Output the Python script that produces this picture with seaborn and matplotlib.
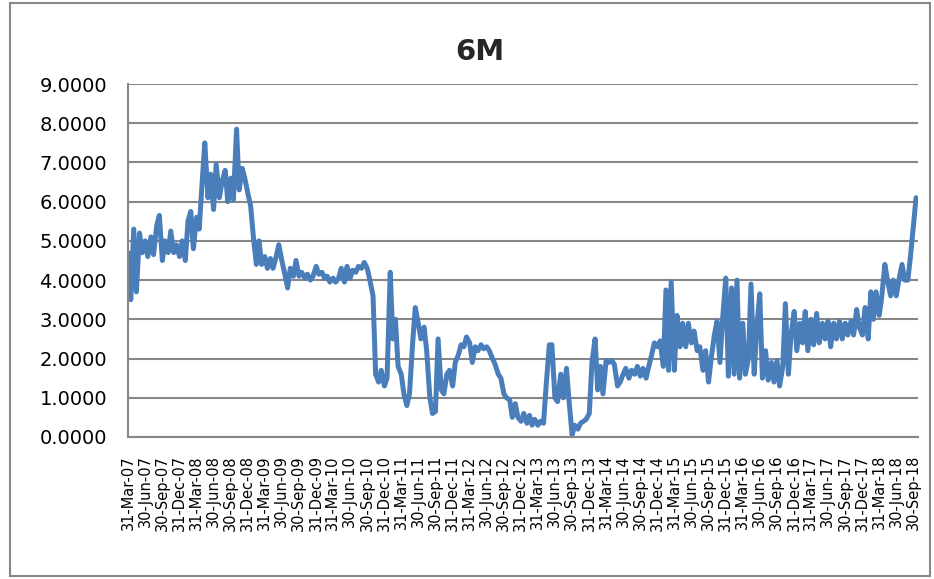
import numpy as np
import matplotlib
matplotlib.use("Agg")
import matplotlib.pyplot as plt
import matplotlib.dates as mdates
import pandas as pd
import seaborn as sns

sns.set_style("white")
plt.rcParams["font.family"] = ["DejaVu Sans"]

# semi-monthly readings of the 6M rate
v2007 = [4.7, 3.5, 5.3, 3.7, 5.2, 4.7, 5.0, 4.6, 5.1, 4.65, 5.4, 5.65,
         4.5, 5.0, 4.7, 5.25, 4.7, 4.9]
v2008 = [4.6, 5.0, 4.5, 5.5, 5.75, 4.8, 5.6, 5.3, 6.5, 7.5, 6.1, 6.7,
         5.8, 6.95, 6.1, 6.5, 6.8, 6.0, 6.6, 6.05, 7.85, 6.3, 6.85, 6.6]
v2009 = [6.2, 5.9, 5.0, 4.4, 5.0, 4.4, 4.6, 4.3, 4.55, 4.3, 4.6, 4.9,
         4.5, 4.2, 3.8, 4.3, 4.1, 4.5, 4.1, 4.2, 4.05, 4.15, 4.0, 4.1]
v2010 = [4.35, 4.15, 4.2, 4.05, 4.1, 3.95, 4.05, 3.95, 4.05, 4.3, 3.95, 4.35,
         4.05, 4.25, 4.2, 4.35, 4.3, 4.45, 4.3, 4.0, 3.6, 1.6, 1.4, 1.7]
v2011 = [1.3, 1.5, 4.2, 2.5, 3.0, 1.8, 1.6, 1.1, 0.8, 1.1, 2.4, 3.3,
         2.9, 2.5, 2.8, 2.2, 1.0, 0.6, 0.65, 2.5, 1.2, 1.1, 1.6, 1.7]
v2012 = [1.3, 1.9, 2.1, 2.35, 2.3, 2.55, 2.4, 1.9, 2.3, 2.2, 2.35, 2.25,
         2.3, 2.2, 2.0, 1.85, 1.6, 1.5, 1.1, 1.0, 0.95, 0.5, 0.85, 0.5]
v2013 = [0.4, 0.6, 0.35, 0.55, 0.3, 0.45, 0.3, 0.4, 0.35, 1.3, 2.35, 2.35,
         1.0, 0.9, 1.6, 1.0, 1.75, 0.9, 0.05, 0.3, 0.2, 0.35, 0.4, 0.45]
v2014 = [0.6, 1.9, 2.5, 1.2, 1.8, 1.1, 1.95, 1.9, 1.95, 1.85, 1.3, 1.4,
         1.6, 1.75, 1.5, 1.7, 1.6, 1.8, 1.55, 1.75, 1.5, 1.8, 2.1, 2.4]
v2015 = [2.3, 2.45, 1.8, 3.75, 1.7, 3.95, 1.7, 3.1, 2.3, 2.9, 2.3, 2.9,
         2.4, 2.7, 2.2, 2.3, 1.7, 2.2, 1.4, 2.0, 2.6, 2.95, 1.9, 3.0]
v2016 = [4.05, 1.55, 3.8, 1.6, 4.0, 1.5, 2.9, 1.6, 2.0, 3.9, 1.6, 2.8,
         3.65, 1.5, 2.2, 1.45, 1.9, 1.4, 1.95, 1.3, 1.8, 3.4, 1.6, 2.6]
v2017 = [3.2, 2.2, 2.9, 2.4, 3.2, 2.2, 3.0, 2.35, 3.15, 2.4, 2.9, 2.5,
         2.95, 2.3, 2.9, 2.5, 2.95, 2.5, 2.9, 2.6, 2.95, 2.6, 3.25, 2.8]
v2018 = [2.6, 3.3, 2.5, 3.7, 3.0, 3.7, 3.1, 3.6, 4.4, 4.0, 3.6, 4.0,
         3.6, 4.0, 4.4, 4.0, 4.0, 4.6, 5.4, 6.1]

values = (v2007 + v2008 + v2009 + v2010 + v2011 + v2012 + v2013 + v2014
          + v2015 + v2016 + v2017 + v2018)
dates = pd.date_range("2007-04-01", periods=len(values), freq="SMS")
df = pd.DataFrame({"date": dates, "rate": values})

tick_dates = pd.date_range("2007-03-31", "2018-09-30", freq="QE")
y_ticks = np.arange(0, 10, 1)

fig = plt.figure(figsize=(9.34, 5.79), dpi=100)
ax = fig.add_axes([0.137, 0.2453, 0.8456, 0.6096])

sns.lineplot(data=df, x="date", y="rate", ax=ax, color="#4A7EBB",
             linewidth=3.6, solid_capstyle="round", solid_joinstyle="round")

ax.set_xlim(pd.Timestamp("2007-03-31"), dates[-1] + pd.Timedelta(days=9))
ax.set_ylim(0, 9)
ax.set_yticks(y_ticks)
ax.yaxis.set_major_formatter(matplotlib.ticker.FormatStrFormatter("%.4f"))
ax.set_xticks(tick_dates)
ax.xaxis.set_major_formatter(mdates.DateFormatter("%d-%b-%y"))
plt.setp(ax.get_xticklabels(), rotation=90)

ax.grid(axis="y", color="#878787", linewidth=1.5)
ax.set_axisbelow(True)
for side in ["top", "right"]:
    ax.spines[side].set_visible(False)
for side in ["left", "bottom"]:
    ax.spines[side].set_color("#878787")
    ax.spines[side].set_linewidth(1.5)
ax.tick_params(axis="y", length=5, width=1.5, color="#878787", pad=10,
               labelsize=14, labelcolor="black")
ax.tick_params(axis="x", length=5, width=1.2, color="#878787", pad=8,
               labelsize=10.5, labelcolor="black")
ax.set_xlabel("")
ax.set_ylabel("")

fig.text(480 / 934, 1 - 52 / 579, "6M", ha="center", va="center",
         fontsize=21, fontweight="bold")

border = plt.Rectangle((0.011, 0.005), 0.985, 0.99, transform=fig.transFigure,
                       fill=False, edgecolor="#878787", linewidth=1.5)
fig.patches.append(border)

fig.savefig("out.png", dpi=100)
